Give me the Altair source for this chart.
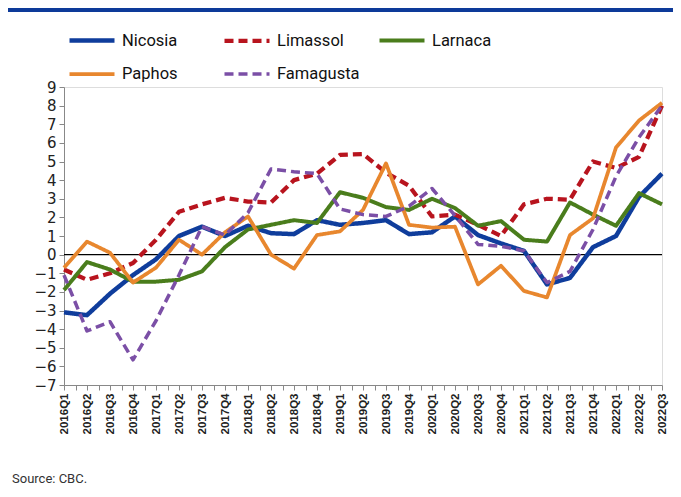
import json
import altair as alt
import pandas as pd

periods = ["2016Q1", "2016Q2", "2016Q3", "2016Q4",
           "2017Q1", "2017Q2", "2017Q3", "2017Q4",
           "2018Q1", "2018Q2", "2018Q3", "2018Q4",
           "2019Q1", "2019Q2", "2019Q3", "2019Q4",
           "2020Q1", "2020Q2", "2020Q3", "2020Q4",
           "2021Q1", "2021Q2", "2021Q3", "2021Q4",
           "2022Q1", "2022Q2", "2022Q3"]

cities = ["Nicosia", "Limassol", "Larnaca", "Paphos", "Famagusta"]

nicosia = [-3.1, -3.25, -2.1, -1.1, -0.25, 1.0, 1.5, 1.0, 1.55, 1.15, 1.1, 1.85,
           1.6, 1.7, 1.85, 1.1, 1.2, 2.05, 1.05, 0.6, 0.2, -1.6, -1.25, 0.4,
           1.0, 3.1, 4.35]
limassol = [-0.8, -1.35, -1.0, -0.45, 0.8, 2.3, 2.7, 3.05, 2.85, 2.8, 4.0, 4.35,
            5.35, 5.4, 4.4, 3.7, 2.05, 2.15, 1.6, 1.0, 2.7, 3.0, 2.95, 5.0,
            4.65, 5.25, 8.0]
larnaca = [-1.9, -0.4, -0.8, -1.45, -1.45, -1.35, -0.9, 0.4, 1.35, 1.6, 1.85, 1.7,
           3.35, 3.05, 2.55, 2.4, 3.0, 2.5, 1.55, 1.8, 0.8, 0.7, 2.8, 2.15,
           1.55, 3.3, 2.7]
paphos = [-0.7, 0.7, 0.1, -1.5, -0.7, 0.8, 0.0, 1.2, 2.05, 0.0, -0.75, 1.05,
          1.25, 2.4, 4.9, 1.6, 1.45, 1.5, -1.6, -0.6, -1.95, -2.3, 1.05, 1.95,
          5.75, 7.2, 8.15]
famagusta = [-1.1, -4.1, -3.6, -5.65, -3.55, -1.1, 1.5, 1.05, 2.25, 4.6, 4.45, 4.35,
             2.45, 2.15, 2.05, 2.6, 3.55, 2.1, 0.55, 0.45, 0.2, -1.5, -0.9, 1.35,
             4.2, 6.3, 8.0]

series = [nicosia, limassol, larnaca, paphos, famagusta]
colors = ["#0f3d9c", "#b8141e", "#4a7d1c", "#e8872e", "#7b4fa6"]
dashes = [[1, 0], [9, 5], [1, 0], [1, 0], [9, 5]]
widths = [4.5, 3.5, 3.0, 2.5, 3.0]

y_ticks = list(range(-7, 10))
source_text = ["Source: CBC."]

W, H = 598, 298

rows = []
for c, vals in zip(cities, series):
    for i, (p, v) in enumerate(zip(periods, vals)):
        rows.append({"city": c, "idx": i, "period": p, "value": v})
df = pd.DataFrame(rows)

tick_vals = [i / 2 for i in range(2 * len(periods) - 1)]
label_expr = json.dumps(periods) + "[datum.value] || ''"

leg = alt.Legend(
    title=None, orient="none", direction="horizontal", legendX=3, legendY=-71.5,
    columns=3, gridAlign="all", columnPadding=11, rowPadding=-17,
    symbolType="stroke", symbolSize=2025, labelOffset=5,
    labelFont="Roboto", labelFontSize=16.5, labelColor="#111",
    labelLimit=200,
)

x_enc = alt.X(
    "idx:Q",
    scale=alt.Scale(domain=[0, len(periods) - 1], nice=False, zero=False),
    axis=alt.Axis(
        values=tick_vals, labelExpr=label_expr, labelAngle=-90,
        labelFont="Liberation Sans", labelFontWeight="bold", labelFontSize=11.5,
        labelColor="#222", tickSize=5, tickColor="#888", domainColor="#888",
        title=None, grid=False, labelPadding=3, labelOverlap=False,
        labelBound=False, labelFlush=False,
    ),
)
y_axis = alt.Axis(
    values=y_ticks, tickSize=5, tickColor="#888", domainColor="#888",
    labelFont="DejaVu Sans", labelFontSize=15, labelColor="#222",
    labelPadding=3, title=None, grid=False, labelOverlap=False,
    labelBound=False, labelFlush=False,
)
y_scale = alt.Scale(domain=[-7, 9], nice=False, zero=False)

lines = alt.Chart(df).mark_line(strokeCap="butt", strokeJoin="round").encode(
    x=x_enc,
    y=alt.Y("value:Q", scale=y_scale, axis=y_axis),
    color=alt.Color("city:N", scale=alt.Scale(domain=cities, range=colors), legend=leg),
    strokeDash=alt.StrokeDash("city:N", scale=alt.Scale(domain=cities, range=dashes), legend=leg),
    strokeWidth=alt.StrokeWidth("city:N", scale=alt.Scale(domain=cities, range=widths), legend=leg),
    order=alt.Order("idx:Q"),
)

zero = alt.Chart(pd.DataFrame({"value": [0]})).mark_rule(color="black", strokeWidth=1.3).encode(
    y=alt.Y("value:Q", scale=y_scale, axis=y_axis)
)

banner = alt.Chart(pd.DataFrame({"b": [0]})).mark_rect(color="#0d3a99", clip=False).encode(
    x=alt.value(-56), x2=alt.value(W + 11), y=alt.value(-79), y2=alt.value(-75)
)

source = alt.Chart(pd.DataFrame({"t": source_text})).mark_text(
    align="left", baseline="middle", font="Roboto", fontSize=13, color="#333"
).encode(x=alt.value(-52), y=alt.value(392), text="t:N")

chart = alt.layer(zero, lines, banner, source).properties(
    width=W, height=H,
    autosize=alt.AutoSizeParams(type="none"),
    padding={"left": 56, "top": 79, "right": 11, "bottom": 104},
).configure_view(stroke=None).configure(background="white")

chart.save("out.html", embed_options={"renderer": "svg", "actions": False})
